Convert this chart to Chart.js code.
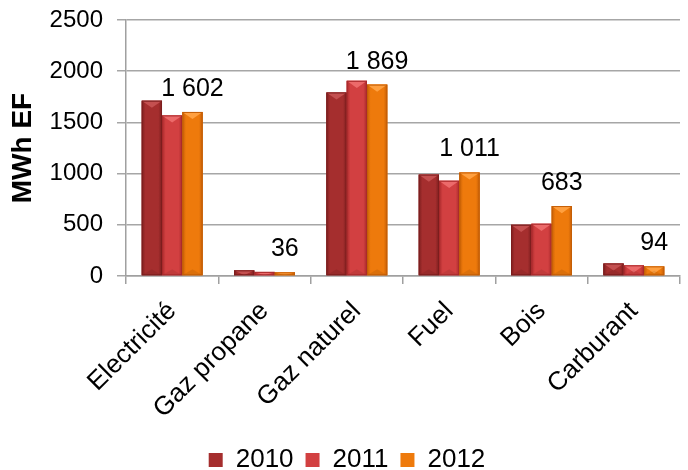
<!DOCTYPE html>
<html>
<head>
<meta charset="utf-8">
<script src="https://cdn.jsdelivr.net/npm/chart.js@4.4.0/dist/chart.umd.min.js"></script>
<style>
html,body{margin:0;padding:0;background:#fff;}
#wrap{width:688px;height:470px;position:relative;}
</style>
</head>
<body>
<div id="wrap"><canvas id="c" width="688" height="470"></canvas></div>
<script>
const categories = ['Electricité', 'Gaz propane', 'Gaz naturel', 'Fuel', 'Bois', 'Carburant'];
const seriesNames = ['2010', '2011', '2012'];
const values2010 = [1712, 55, 1792, 990, 500, 122];
const values2011 = [1568, 40, 1906, 930, 510, 104];
const values2012 = [1602, 36, 1869, 1011, 683, 94];
const yTicks = [0, 500, 1000, 1500, 2000, 2500];
const yTitle = 'MWh EF';

const FONT = '"Liberation Sans", Arial, sans-serif';
const baseColors = ['#A52E2E', '#D24041', '#EE7A0C'];
const edgeColors = ['#7C1E1E', '#A92A2C', '#C45E06'];
const lightColors = ['#C45050', '#EC6A6A', '#FFA040'];

function fmt(v) {
  if (v >= 1000) {
    const r = v % 1000;
    return Math.floor(v / 1000) + ' ' + String(r).padStart(3, '0');
  }
  return String(v);
}

const bevelPlugin = {
  id: 'bevel',
  afterDatasetsDraw(chart) {
    const ctx = chart.ctx;
    chart.data.datasets.forEach((ds, di) => {
      const meta = chart.getDatasetMeta(di);
      meta.data.forEach(el => {
        const w = el.width, x0 = el.x - w / 2, x1 = el.x + w / 2;
        const top = el.y, bot = el.base;
        const h = bot - top;
        if (h <= 0) return;
        ctx.save();
        const g = ctx.createLinearGradient(x0, 0, x1, 0);
        g.addColorStop(0, edgeColors[di]);
        g.addColorStop(0.18, baseColors[di]);
        g.addColorStop(0.5, baseColors[di]);
        g.addColorStop(0.82, baseColors[di]);
        g.addColorStop(1, edgeColors[di]);
        ctx.fillStyle = g;
        ctx.fillRect(x0, top, w, h);
        const ch = Math.min(w * 0.35, h);
        ctx.beginPath();
        ctx.moveTo(x0, top);
        ctx.lineTo(x1, top);
        ctx.lineTo(el.x, top + ch);
        ctx.closePath();
        ctx.fillStyle = lightColors[di];
        ctx.fill();
        if (h > 8) {
          ctx.beginPath();
          ctx.moveTo(x0, bot);
          ctx.lineTo(x1, bot);
          ctx.lineTo(el.x, bot - Math.min(w * 0.3, h / 2));
          ctx.closePath();
          ctx.fillStyle = 'rgba(0,0,0,0.08)';
          ctx.fill();
        }
        ctx.strokeStyle = edgeColors[di];
        ctx.lineWidth = 1;
        ctx.strokeRect(x0 + 0.5, top + 0.5, w - 1, h - 1);
        ctx.restore();
      });
    });
  }
};

const labelPlugin = {
  id: 'vlabels',
  afterDatasetsDraw(chart) {
    const ctx = chart.ctx;
    const meta = chart.getDatasetMeta(2);
    ctx.save();
    ctx.font = '25px ' + FONT;
    ctx.fillStyle = '#000';
    ctx.textAlign = 'center';
    ctx.textBaseline = 'alphabetic';
    meta.data.forEach((el, i) => {
      ctx.fillText(fmt(values2012[i]), el.x, el.y - 16);
    });
    ctx.restore();
  }
};

const allValues = [values2010, values2011, values2012];

new Chart(document.getElementById('c'), {
  type: 'bar',
  data: {
    labels: categories,
    datasets: seriesNames.map((n, i) => ({
      label: n,
      data: allValues[i],
      backgroundColor: baseColors[i],
      borderColor: edgeColors[i],
      borderWidth: 0,
      barPercentage: 1,
      categoryPercentage: 0.66
    }))
  },
  options: {
    responsive: false,
    animation: false,
    devicePixelRatio: 1,
    layout: { padding: { top: 20, right: 8, left: 14, bottom: -13 } },
    plugins: {
      legend: {
        position: 'bottom',
        labels: {
          font: { size: 26, family: FONT },
          color: '#000',
          boxWidth: 14,
          boxHeight: 14,
          padding: 12
        }
      },
      tooltip: { enabled: false }
    },
    scales: {
      x: {
        grid: {
          display: true,
          drawOnChartArea: false,
          offset: true,
          color: '#a0a0a0',
          lineWidth: 1.5,
          tickLength: 8
        },
        border: { color: '#a0a0a0', width: 1.5 },
        ticks: {
          font: { size: 26, family: FONT },
          color: '#000',
          minRotation: 45,
          maxRotation: 45,
          padding: 12,
          autoSkip: false
        },
        afterFit(scale) { scale.height = 159; }
      },
      y: {
        min: 0,
        max: 2500,
        afterBuildTicks(scale) { scale.ticks = yTicks.map(v => ({ value: v })); },
        grid: {
          color: '#a6a6a6',
          lineWidth: 1.5,
          tickLength: 9,
          drawTicks: true
        },
        border: { color: '#a0a0a0', width: 1.5 },
        ticks: {
          font: { size: 24, family: FONT },
          color: '#000',
          padding: 14,
          callback: (v) => String(v)
        },
        title: {
          display: true,
          text: yTitle,
          font: { size: 28, weight: 'bold', family: FONT },
          color: '#000',
          padding: { top: -8, bottom: 0 }
        },
        afterFit(scale) { scale.width = 112; scale.paddingTop = 0; scale.paddingBottom = 0; }
      }
    }
  },
  plugins: [bevelPlugin, labelPlugin]
});
</script>
</body>
</html>
